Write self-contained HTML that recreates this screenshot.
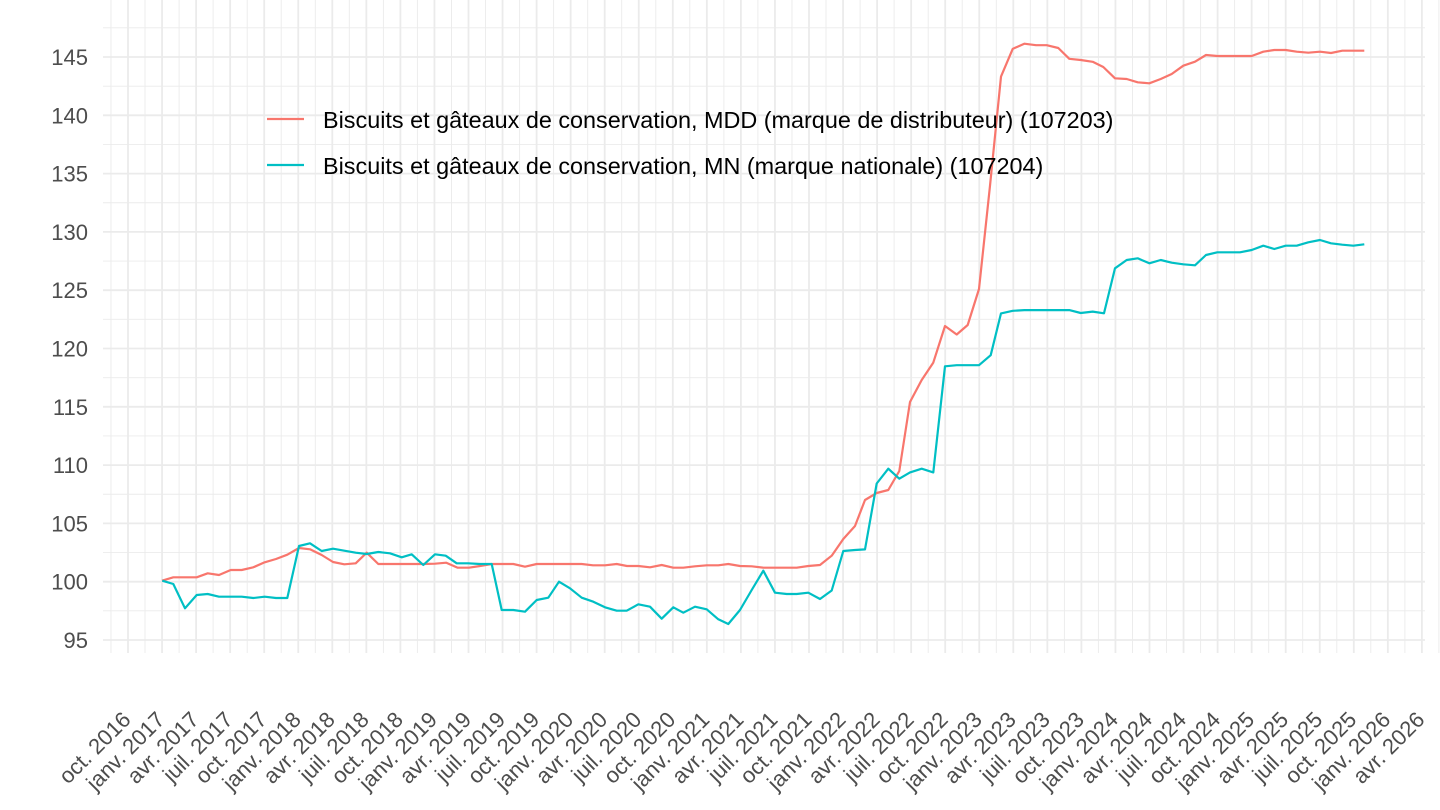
<!DOCTYPE html>
<html><head><meta charset="utf-8"><style>
html,body{margin:0;padding:0;background:#fff;}
svg{display:block;font-family:"Liberation Sans",Arial,sans-serif;}
</style></head><body>
<svg id="s" width="1440" height="810" viewBox="0 0 1440 810" xmlns="http://www.w3.org/2000/svg">
<g id="grid"></g>
<g id="labels" fill="#4d4d4d" font-size="22"></g>
<polyline id="red" fill="none" stroke="#F8766D" stroke-width="2.2" stroke-linejoin="round"/>
<polyline id="teal" fill="none" stroke="#00BFC4" stroke-width="2.2" stroke-linejoin="round"/>
<line x1="267" y1="119" x2="304" y2="119" stroke="#F8766D" stroke-width="2.2"/>
<line x1="267" y1="165" x2="304" y2="165" stroke="#00BFC4" stroke-width="2.2"/>
<text x="323" y="128" font-size="23.4" fill="#000">Biscuits et gâteaux de conservation, MDD (marque de distributeur) (107203)</text>
<text x="323" y="174" font-size="23.4" fill="#000">Biscuits et gâteaux de conservation, MN (marque nationale) (107204)</text>
</svg>
<script>
var ns="http://www.w3.org/2000/svg";
var g=document.getElementById('grid'),L=document.getElementById('labels');
function el(p,t,a,txt){var e=document.createElementNS(ns,t);for(var k in a)e.setAttribute(k,a[k]);if(txt)e.textContent=txt;p.appendChild(e);return e;}
function Y(v){return 640-(v-95)*11.66;}
var left=103,right=1425,top=15,bot=653;
for(var v=95;v<=147.5;v+=2.5){var y=Y(v);var maj=(v%5===0);
 el(g,'line',{x1:left,x2:right,y1:y,y2:y,stroke:'#ebebeb','stroke-width':maj?1.8:0.9});
 if(maj)el(L,'text',{x:88,y:y+8,'text-anchor':'end'},String(v));}
var sp=34.05,x0=128;
var names=['oct.','janv.','avr.','juil.'];
for(var i=-1;i<=77;i++){var x=x0+i*sp/2;var maj=(i%2===0&&i>=0);
 el(g,'line',{x1:x,x2:x,y1:top,y2:bot,stroke:'#ebebeb','stroke-width':maj?1.8:0.9});
 if(maj){var q=i/2;var yr=2016+Math.floor((q+3)/4);var nm=names[q%4];
  el(L,'text',{x:x+4,y:721,'text-anchor':'end',transform:'rotate(-45 '+(x+4)+' 721)'},nm+' '+yr);}}
var red=[[162,580.7],[173.3,577.3],[185,577.3],[196.7,577.3],[207.7,573.3],[219,575],[230.7,570],[241.7,570],[253.3,567.3],[264.7,562.3],[276,559],[287.3,554.7],[299,548],[310,549.3],[321.7,555],[333,562],[344.3,564.3],[355.7,563.3],[366.7,552.7],[378.3,564],[389.7,564],[401,564],[412.3,564],[423.7,564],[435,563.7],[446.3,562.7],[457.7,567.7],[469,567.7],[480,566],[491.7,564],[513.3,564],[525,566.7],[536.7,564],[548,564],[559,564],[570.3,564],[581.7,564],[593,565.3],[605,565.3],[616.7,564],[627,566],[638.3,566],[650,567.3],[661.7,565],[673.3,567.7],[683.3,567.7],[695,566.3],[706.7,565.3],[718.3,565.3],[728.3,564],[740,566],[751.7,566.3],[763.3,567.7],[775,567.7],[786.7,567.7],[796.7,567.7],[808.3,566],[820,565],[831.7,555.7],[843.3,539],[855,526],[865,500],[876.7,493],[888.3,490],[899.3,471],[910,402],[921.7,380],[933.3,362.6],[945,326],[956.7,334.5],[967.7,325],[979,289],[990,185.7],[1001,76.6],[1012.7,48.9],[1024.3,43.7],[1036,45.2],[1046.7,45.2],[1058.3,48],[1069.3,58.8],[1080.7,60],[1092.7,61.8],[1103.3,67],[1115,78.3],[1126.7,79],[1137.7,82.3],[1149.3,83.3],[1160.7,79],[1171.7,74],[1183.3,65.7],[1195,61.7],[1206,55],[1217.3,56],[1228.7,56],[1240,56],[1251.7,56],[1263.3,51.7],[1274.3,50],[1285.7,50],[1296.7,51.7],[1308.3,52.7],[1320,51.7],[1331,53],[1342.3,50.7],[1353.3,50.7],[1364.3,50.7]];
var teal=[[162.3,580.7],[173.3,584],[185,608.3],[196.7,595],[207.7,594],[219,596.7],[230.7,596.7],[241.7,596.7],[253.3,598],[264.7,596.7],[276,598],[287.3,598],[299,546],[310,543.3],[321.7,551],[333,548.7],[344.3,550.7],[355.7,552.7],[366.7,554],[378.3,552],[390,553.3],[401.7,557.3],[411.7,554.3],[423.3,565],[435,554.3],[445.7,555.7],[456.7,563.3],[468.3,563.3],[480,564],[491.7,564],[501.7,610],[513.3,610],[525,611.7],[536.7,600],[548.3,597.7],[559,581.7],[570,588.3],[581.7,597.7],[593.3,601.7],[605,607.3],[616.7,610.7],[626.7,610.7],[638.3,604.3],[650,606.7],[661.7,618.7],[673.3,607.3],[683.3,612.7],[695,606.7],[706.7,609.3],[718.3,619.3],[728.3,624],[740,610],[751.7,590],[763.3,570.7],[775,592.7],[786.7,594],[796.7,594],[808.3,592.7],[820,599],[831.7,590.5],[843.3,551],[855,550],[865,549.4],[876.7,483.5],[888.3,468.7],[899.3,478.7],[910,472.4],[921.7,468.7],[933.3,472.4],[945,366.3],[956.7,365.2],[967.7,365.2],[979,365.2],[990.7,355.2],[1001,313.4],[1012.7,310.8],[1024.3,310.1],[1036,310.1],[1046.7,310.1],[1058.3,310.1],[1069.3,310.1],[1080.7,313],[1092.7,311.6],[1104,313.3],[1115,268.3],[1126.7,260],[1137.7,258.3],[1149.3,263.3],[1160.7,260],[1171.7,262.7],[1183.3,264.3],[1195,265.3],[1206,255],[1217.3,252.3],[1228.7,252.3],[1240,252.3],[1251.7,250],[1263.3,245.7],[1274.3,249],[1285.7,245.7],[1296.7,245.7],[1308.3,242.3],[1320,240],[1331,243.3],[1342.3,244.7],[1353.3,245.7],[1364.3,244.3]];
document.getElementById('red').setAttribute('points',red.map(function(p){return p.join(',')}).join(' '));
document.getElementById('teal').setAttribute('points',teal.map(function(p){return p.join(',')}).join(' '));
</script>
</body></html>
